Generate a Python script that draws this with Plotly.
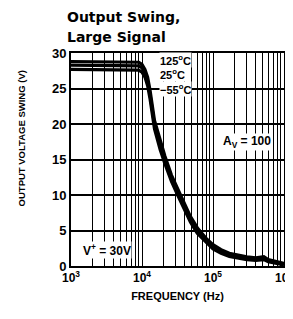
import math
import plotly.graph_objects as go

freq = [1e3, 3e3, 8e3, 9e3, 1e4, 1.1e4, 1.2e4, 1.3e4, 1.5e4, 1.8e4, 2.1e4, 2.6e4, 3.2e4, 4e4, 4.8e4, 6e4, 8e4, 1e5, 1.3e5, 1.7e5, 2.3e5, 3e5, 4e5, 4.7e5, 5.2e5, 6e5, 8e5, 1e6]
v_125 = [28.8, 28.8, 28.8, 28.7, 28.4, 27.7, 26.6, 24.7, 20.5, 17.6, 15.5, 12.8, 10.8, 8.6, 7.0, 5.4, 3.9, 3.0, 2.3, 1.8, 1.5, 1.3, 1.15, 1.25, 1.3, 0.9, 0.55, 0.35]
v_25 = [28.3, 28.3, 28.3, 28.2, 27.9, 27.2, 26.0, 24.1, 19.9, 17.0, 15.0, 12.4, 10.4, 8.2, 6.6, 5.0, 3.6, 2.7, 2.05, 1.6, 1.3, 1.1, 0.95, 1.05, 1.1, 0.75, 0.45, 0.25]
v_m55 = [27.7, 27.7, 27.7, 27.6, 27.3, 26.6, 25.4, 23.5, 19.3, 16.4, 14.4, 11.9, 9.9, 7.8, 6.2, 4.6, 3.3, 2.4, 1.8, 1.35, 1.1, 0.9, 0.8, 0.85, 0.9, 0.6, 0.3, 0.15]

series = [("125°C", v_125), ("25°C", v_25), ("−55°C", v_m55)]

grid_vals = [m * 10 ** e for e in (3, 4, 5) for m in range(1, 10)] + [1e6]
grid_text = []
for v in grid_vals:
    e = round(math.log10(v))
    grid_text.append(f"10<sup>{e}</sup>" if abs(v - 10 ** e) < 1e-6 else "")
y_ticks = [0, 5, 10, 15, 20, 25, 30]

FONT = "Liberation Sans Narrow, Liberation Sans, Arial"

fig = go.Figure()
for name, vals in series:
    fig.add_trace(go.Scatter(x=freq, y=vals, mode="lines", name=name,
                             line=dict(color="black", width=3.2)))

# the page body adds an 8px margin, so the figure is sized to keep the plot where the reference has it
fig.update_layout(
    width=285, height=311,
    margin=dict(l=63, r=9, t=45, b=53, autoexpand=False),
    paper_bgcolor="white", plot_bgcolor="white",
    showlegend=False,
    font=dict(family=FONT, color="black", size=11),
)
fig.update_xaxes(type="log", range=[3, 6], tickvals=grid_vals, ticktext=grid_text,
                 showgrid=True, gridcolor="black", gridwidth=1.2, automargin=False,
                 showline=True, linecolor="black", linewidth=2, mirror=True,
                 ticks="", ticklabeloverflow="allow",
                 tickfont=dict(family=FONT, size=12, color="black", weight="bold"),
                 title=dict(text="<b>FREQUENCY (Hz)</b>", font=dict(family=FONT, size=11), standoff=8))
fig.update_yaxes(range=[0, 30], tickvals=y_ticks, automargin=False,
                 showgrid=True, gridcolor="black", gridwidth=1.5, zeroline=False,
                 showline=True, linecolor="black", linewidth=2, mirror=True,
                 ticks="", tickfont=dict(family=FONT, size=13, color="black", weight="bold"))

# title lines
fig.add_annotation(x=0, xref="paper", xanchor="left", xshift=-5, y=1, yref="paper", yanchor="top", yshift=45,
                   text="<b>Output Swing,</b>", showarrow=False, borderpad=0,
                   font=dict(family="DejaVu Sans", size=14, color="black"))
fig.add_annotation(x=0, xref="paper", xanchor="left", xshift=-5, y=1, yref="paper", yanchor="top", yshift=25,
                   text="<b>Large Signal</b>", showarrow=False, borderpad=0,
                   font=dict(family="DejaVu Sans", size=14, color="black"))
# y axis title
fig.add_annotation(x=0, xref="paper", xshift=-57, y=17.9, yref="y", textangle=-90,
                   text="<b>OUTPUT VOLTAGE SWING (V)</b>", showarrow=False,
                   font=dict(family=FONT, size=9.5, color="black"))

ann_font = dict(family=FONT, size=11, color="black")
for i, (name, _) in enumerate(series):
    fig.add_annotation(x=4.235, y=29.0 - i * 2.0, xref="x", yref="y",
                       text="<b>" + name.replace("°", "<sup>o</sup>") + "</b>",
                       showarrow=False, xanchor="left", bgcolor="white", borderpad=0, font=ann_font)
fig.add_annotation(x=5.13, y=17.5, xref="x", yref="y", text="<b>A<sub>V</sub> = 100</b>",
                   showarrow=False, xanchor="left", bgcolor="white", borderpad=0, font=dict(family=FONT, size=12, color="black"))
fig.add_annotation(x=3.15, y=2.2, xref="x", yref="y", text="<b>V<sup>+</sup> = 30V</b>",
                   showarrow=False, xanchor="left", bgcolor="white", borderpad=0, font=dict(family=FONT, size=12, color="black"))

fig.write_html("out.html")
